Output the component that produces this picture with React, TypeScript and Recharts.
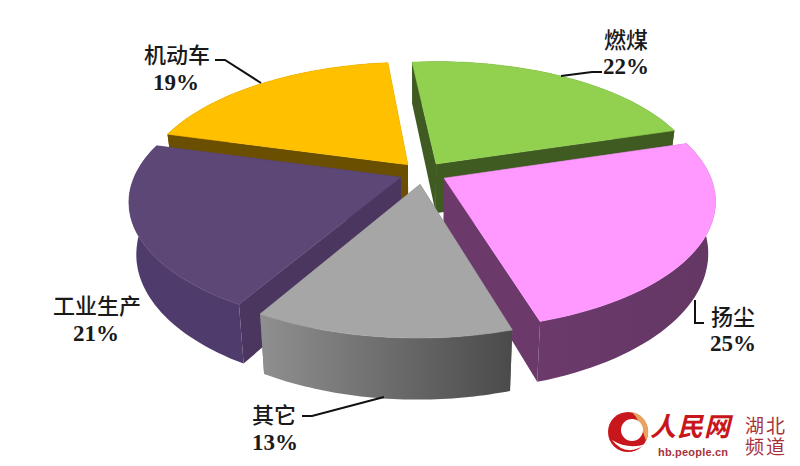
import { Pie, PieChart } from "recharts";

const categories = ["燃煤", "扬尘", "其它", "工业生产", "机动车"];
const shares = [22, 25, 13, 21, 19];

const pieData = categories.map((name, i) => ({ name, value: shares[i] }));

// back to front, slices overlap each other
const PAINT_ORDER = ["机动车", "燃煤", "工业生产", "扬尘", "其它"];

const COLORS: Record<string, { top: string; cut: string; rim: string }> = {
  燃煤: { top: "#92d050", cut: "#3f5b22", rim: "#3f5b22" },
  扬尘: { top: "#ff99ff", cut: "#6b3a6b", rim: "url(#rimPink)" },
  其它: { top: "#a6a6a6", cut: "#6e6e6e", rim: "url(#rimGrey)" },
  工业生产: { top: "#5d4776", cut: "#4b3660", rim: "#503c6c" },
  机动车: { top: "#ffc000", cut: "#6b4f00", rim: "#6b4f00" },
};

const LABELS: Record<string, { x: number; y: number; py: number; px?: number; line: string }> = {
  燃煤: { x: 626, y: 38, py: 66, line: "561,76 592,72 602,72" },
  扬尘: { x: 733, y: 315, py: 343, line: "695,300 695,323 704,323" },
  其它: { x: 274, y: 413, py: 442, px: 275, line: "384,397 312,416 302,416" },
  工业生产: { x: 97, y: 304, py: 333, px: 96, line: "" },
  机动车: { x: 177, y: 53, py: 82, px: 176, line: "261,83 225,60 215,60" },
};

// perspective of the pie plane, fitted on the picture
const PERSPECTIVE = 0.173;
const FLATTEN = 122.9;
const SKEW = -2;
const EXPLODE = 0.09;
const DEPTH = 50;
const DEPTH_SHRINK = 0.975;

const RAD = Math.PI / 180;

type Pt = [number, number];

function project(props: any, px: number, py: number): Pt {
  const k = 1 / (1 - PERSPECTIVE * py);
  return [props.cx + props.outerRadius * px * k + SKEW * py, props.cy + FLATTEN * py * k];
}

function bottom(props: any, px: number, py: number): Pt {
  const [x, y] = project(props, px, py);
  return [props.cx + (x - props.cx) * DEPTH_SHRINK, y + DEPTH / (1 - PERSPECTIVE * py)];
}

const toPath = (pts: Pt[]) =>
  "M" + pts.map((p) => `${p[0].toFixed(1)},${p[1].toFixed(1)}`).join("L") + "Z";

function sliceOutline(start: number, end: number) {
  const mid = ((start + end) / 2) * RAD;
  const ox = Math.cos(mid) * EXPLODE;
  const oy = -Math.sin(mid) * EXPLODE;
  const rim: Pt[] = [];
  const steps = 48;
  for (let i = 0; i <= steps; i++) {
    const a = (start + ((end - start) * i) / steps) * RAD;
    rim.push([ox + Math.cos(a), oy - Math.sin(a)]);
  }
  return { apex: [ox, oy] as Pt, rim };
}

function Slice3D(props: any, only: string) {
  if (props.name !== only) return <g />;
  const c = COLORS[props.name];
  const { apex, rim } = sliceOutline(props.startAngle, props.endAngle);
  const topRim = rim.map((p) => project(props, p[0], p[1]));
  const lowRim = rim.map((p) => bottom(props, p[0], p[1]));
  const a = project(props, apex[0], apex[1]);
  const b = bottom(props, apex[0], apex[1]);
  const n = rim.length - 1;
  return (
    <g>
      <path d={toPath([a, b, lowRim[0], topRim[0]])} fill={c.cut} />
      <path d={toPath([a, b, lowRim[n], topRim[n]])} fill={c.cut} />
      <path d={toPath([...topRim, ...lowRim.slice().reverse()])} fill={c.rim} />
      <path d={toPath([a, ...topRim])} fill={c.top} stroke={c.top} strokeWidth={0.6} />
    </g>
  );
}

function SliceLabel(props: any) {
  const l = LABELS[props.name];
  return (
    <g>
      {l.line && <polyline points={l.line} fill="none" stroke="#111" strokeWidth={2} />}
      <text
        x={l.x}
        y={l.y}
        textAnchor="middle"
        dominantBaseline="central"
        fontFamily="'Noto Sans CJK SC'"
        fontWeight={500}
        fontSize={22}
        fill="#1a1a1a"
      >
        {props.name}
      </text>
      <text
        x={l.px ?? l.x}
        y={l.py}
        textAnchor="middle"
        dominantBaseline="central"
        fontFamily="'Liberation Serif'"
        fontWeight="bold"
        fontSize={23}
        fill="#1a1a1a"
      >
        {props.value}%
      </text>
    </g>
  );
}

function Watermark() {
  return (
    <svg width={800} height={466} style={{ position: "absolute", left: 0, top: 0 }}>
      <circle cx={628} cy={432} r={20} fill="#c8161d" />
      <path d="M632,412 A20,20 0 0 1 646,441 Q640,420 632,412Z" fill="#e9a35f" />
      <circle cx={632} cy={430} r={11} fill="#fff" />
      <path d="M612,440 Q626,458 646,444 Q628,450 612,440Z" fill="#fff" />
      <text x={650} y={436} fontFamily="'Noto Sans CJK SC'" fontWeight="bold" fontStyle="italic" fontSize={26} textLength={80} fill="#c8161d">
        人民网
      </text>
      <text x={658} y={456} fontFamily="'Liberation Sans'" fontWeight="bold" fontSize={11} textLength={70} fill="#a8323a">
        hb.people.cn
      </text>
      <text fontFamily="'Noto Sans CJK SC'" fontSize={19} letterSpacing={2} fill="#a8323a">
        <tspan x={745} y={433}>湖北</tspan>
        <tspan x={745} y={454}>频道</tspan>
      </text>
    </svg>
  );
}

export default function App() {
  return (
    <div style={{ position: "absolute", left: 0, top: 0, width: 800, height: 466, background: "#fff" }}>
      <PieChart width={800} height={466} margin={{ top: 0, right: 0, bottom: 0, left: 0 }}>
        <defs>
          <linearGradient id="rimGrey" gradientUnits="userSpaceOnUse" x1={262} y1={0} x2={513} y2={0}>
            <stop offset="0%" stopColor="#8f8f8f" />
            <stop offset="100%" stopColor="#4a4a4a" />
          </linearGradient>
          <linearGradient id="rimPink" gradientUnits="userSpaceOnUse" x1={541} y1={0} x2={717} y2={0}>
            <stop offset="0%" stopColor="#6b3a6b" />
            <stop offset="100%" stopColor="#643764" />
          </linearGradient>
        </defs>
        {PAINT_ORDER.map((only) => (
          <Pie
            key={only}
            data={pieData}
            dataKey="value"
            nameKey="name"
            cx={423}
            cy={173}
            innerRadius={0}
            outerRadius={265}
            startAngle={96.2}
            endAngle={-263.8}
            isAnimationActive={false}
            shape={(p: any) => Slice3D(p, only)}
          />
        ))}
        <Pie
          data={pieData}
          dataKey="value"
          nameKey="name"
          cx={423}
          cy={173}
          outerRadius={265}
          startAngle={96.2}
          endAngle={-263.8}
          isAnimationActive={false}
          shape={SliceLabel}
        />
      </PieChart>
      <Watermark />
    </div>
  );
}
